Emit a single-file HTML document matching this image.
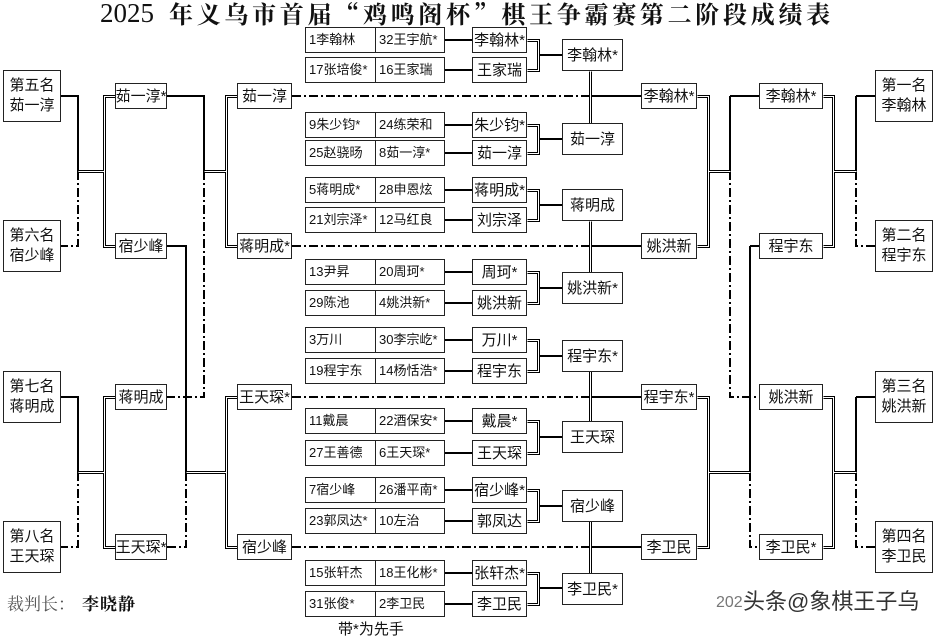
<!DOCTYPE html>
<html><head><meta charset="utf-8">
<style>
html,body{margin:0;padding:0;background:#fff;}
body{width:933px;height:637px;position:relative;overflow:hidden;font-family:"Liberation Sans","Noto Sans CJK SC",sans-serif;color:#111;}
.b{position:absolute;border:1px solid #222;background:#fff;box-sizing:border-box;display:flex;align-items:center;justify-content:center;font-size:15px;white-space:nowrap;line-height:1;}
.r{position:absolute;border:1px solid #222;background:#fff;box-sizing:border-box;font-size:15px;text-align:center;line-height:20px;padding-top:5px;}
.pl,.pr{position:absolute;border:1px solid #222;background:#fff;box-sizing:border-box;height:26px;font-size:13px;line-height:24px;padding-left:3px;white-space:nowrap;}
.pl{left:305px;width:71px;}
.pr{left:375px;width:70px;}
.w{left:472px;width:55px;height:26px;}
.q{left:562px;width:61px;height:32px;}
.c2{left:115px;width:52px;height:26px;}
.c3{left:237px;width:55px;height:26px;}
.c4{left:641px;width:56px;height:26px;}
.c5{left:759px;width:64px;height:26px;}
.rl{left:3px;width:58px;height:52px;}
.rr{left:875px;width:58px;height:52px;}
svg{position:absolute;left:0;top:0;}
.s{stroke:#000;stroke-width:2;fill:none;}
.d{stroke:#000;stroke-width:2;fill:none;stroke-dasharray:9 3 2 3;}
.o{stroke:#000;stroke-width:3;fill:none;}
.i{stroke:#fff;stroke-width:1;fill:none;}
</style></head><body>

<div style="position:absolute;left:100px;top:-2px;font-family:'Liberation Serif',serif;font-size:27px;line-height:30px;">2025</div>
<div style="position:absolute;left:169px;top:0px;font-family:'Noto Serif CJK SC',serif;font-weight:bold;font-size:24px;line-height:26px;letter-spacing:3.7px;white-space:nowrap;">年义乌市首届“鸡鸣阁杯”棋王争霸赛第二阶段成绩表</div>

<svg width="933" height="637" viewBox="0 0 933 637">
<!-- left rank <-> col2 -->
<path class="s" d="M61 96 H78 V171"/>
<path class="d" d="M78 171 V246 H61"/>
<path class="s" d="M61 397 H78 V472"/>
<path class="d" d="M78 472 V547 H61"/>
<!-- col2 -> col3 -->
<path class="s" d="M167 96 H204 V171"/>
<path class="d" d="M204 171 V397 H167"/>
<path class="s" d="M167 246 H186 V472"/>
<path class="d" d="M186 472 V547 H167"/>
<!-- center dash-dot -->
<path class="d" d="M292 96 H589"/>
<path class="d" d="M292 246 H589"/>
<path class="d" d="M292 397 H589"/>
<path class="d" d="M292 547 H589"/>
<path class="s" d="M591 96 H641"/>
<path class="s" d="M591 246 H641"/>
<path class="s" d="M591 397 H641"/>
<path class="s" d="M591 547 H641"/>
<!-- pair -> winner lines -->
<path class="s" d="M445 40 H472 M445 70 H472 M445 125 H472 M445 153 H472 M445 190 H472 M445 220 H472 M445 272 H472 M445 303 H472 M445 340 H472 M445 371 H472 M445 421 H472 M445 453 H472 M445 490 H472 M445 521 H472 M445 573 H472 M445 604 H472"/>
<!-- bracket -> R2 lines -->
<path class="s" d="M539 55 H562 M539 139 H562 M539 205 H562 M539 288 H562 M539 356 H562 M539 437 H562 M539 506 H562 M539 588 H562"/>
<!-- right R3 -> R4 -->
<path class="s" d="M730 96 V171 M730 96 H759"/>
<path class="d" d="M730 171 V397 H759"/>
<path class="s" d="M750 246 V472 M750 246 H759"/>
<path class="d" d="M750 472 V547 H759"/>
<!-- R4 -> rank -->
<path class="s" d="M856 96 V171 M856 96 H875"/>
<path class="d" d="M856 171 V246 H875"/>
<path class="s" d="M856 397 V472 M856 397 H875"/>
<path class="d" d="M856 472 V547 H875"/>

<g transform="translate(0.5,0.5)">
<path class="o" d="M78 171 H104 M115 96 H104 V246 H115 M78 472 H104 M115 397 H104 V547 H115"/>
<path class="o" d="M204 171 H226 M237 96 H226 V246 H237 M186 472 H226 M237 397 H226 V547 H237"/>
<path class="o" d="M527 40 H538 V70 H527 M527 125 H538 V153 H527 M527 190 H538 V220 H527 M527 272 H538 V303 H527 M527 340 H538 V371 H527 M527 421 H538 V453 H527 M527 490 H538 V521 H527 M527 573 H538 V604 H527"/>
<path class="o" d="M590 71 V123 M590 221 V272 M590 371 V421 M590 521 V573"/>
<path class="o" d="M697 96 H708 V246 H697 M708 171 H730 M697 397 H708 V547 H697 M708 472 H750"/>
<path class="o" d="M823 96 H833 V246 H823 M833 171 H856 M823 397 H833 V547 H823 M833 472 H856"/>
<path class="i" d="M78 171 H104 M115 96 H104 V246 H115 M78 472 H104 M115 397 H104 V547 H115"/>
<path class="i" d="M204 171 H226 M237 96 H226 V246 H237 M186 472 H226 M237 397 H226 V547 H237"/>
<path class="i" d="M527 40 H538 V70 H527 M527 125 H538 V153 H527 M527 190 H538 V220 H527 M527 272 H538 V303 H527 M527 340 H538 V371 H527 M527 421 H538 V453 H527 M527 490 H538 V521 H527 M527 573 H538 V604 H527"/>
<path class="i" d="M590 71 V123 M590 221 V272 M590 371 V421 M590 521 V573"/>
<path class="i" d="M697 96 H708 V246 H697 M708 171 H730 M697 397 H708 V547 H697 M708 472 H750"/>
<path class="i" d="M823 96 H833 V246 H823 M833 171 H856 M823 397 H833 V547 H823 M833 472 H856"/>
</g>
</svg>

<!-- left rank boxes -->
<div class="r rl" style="top:70px;">第五名<br>茹一淳</div>
<div class="r rl" style="top:220px;">第六名<br>宿少峰</div>
<div class="r rl" style="top:371px;">第七名<br>蒋明成</div>
<div class="r rl" style="top:521px;">第八名<br>王天琛</div>

<!-- col2 -->
<div class="b c2" style="top:83px;">茹一淳*</div>
<div class="b c2" style="top:233px;">宿少峰</div>
<div class="b c2" style="top:384px;">蒋明成</div>
<div class="b c2" style="top:534px;">王天琛*</div>

<!-- col3 -->
<div class="b c3" style="top:83px;">茹一淳</div>
<div class="b c3" style="top:233px;">蒋明成*</div>
<div class="b c3" style="top:384px;">王天琛*</div>
<div class="b c3" style="top:534px;">宿少峰</div>

<!-- pair rows -->
<div class="pl" style="top:27px;">1李翰林</div><div class="pr" style="top:27px;">32王宇航*</div>
<div class="pl" style="top:57px;">17张培俊*</div><div class="pr" style="top:57px;">16王家瑞</div>
<div class="pl" style="top:112px;">9朱少钧*</div><div class="pr" style="top:112px;">24练荣和</div>
<div class="pl" style="top:140px;">25赵骁旸</div><div class="pr" style="top:140px;">8茹一淳*</div>
<div class="pl" style="top:177px;">5蒋明成*</div><div class="pr" style="top:177px;">28申恩炫</div>
<div class="pl" style="top:207px;">21刘宗泽*</div><div class="pr" style="top:207px;">12马红良</div>
<div class="pl" style="top:259px;">13尹昇</div><div class="pr" style="top:259px;">20周珂*</div>
<div class="pl" style="top:290px;">29陈池</div><div class="pr" style="top:290px;">4姚洪新*</div>
<div class="pl" style="top:327px;">3万川</div><div class="pr" style="top:327px;">30李宗屹*</div>
<div class="pl" style="top:358px;">19程宇东</div><div class="pr" style="top:358px;">14杨恬浩*</div>
<div class="pl" style="top:408px;">11戴晨</div><div class="pr" style="top:408px;">22酒保安*</div>
<div class="pl" style="top:440px;">27王善德</div><div class="pr" style="top:440px;">6王天琛*</div>
<div class="pl" style="top:477px;">7宿少峰</div><div class="pr" style="top:477px;">26潘平南*</div>
<div class="pl" style="top:508px;">23郭凤达*</div><div class="pr" style="top:508px;">10左治</div>
<div class="pl" style="top:560px;">15张轩杰</div><div class="pr" style="top:560px;">18王化彬*</div>
<div class="pl" style="top:591px;">31张俊*</div><div class="pr" style="top:591px;">2李卫民</div>

<!-- winners -->
<div class="b w" style="top:27px;">李翰林*</div>
<div class="b w" style="top:57px;">王家瑞</div>
<div class="b w" style="top:112px;">朱少钧*</div>
<div class="b w" style="top:140px;">茹一淳</div>
<div class="b w" style="top:177px;">蒋明成*</div>
<div class="b w" style="top:207px;">刘宗泽</div>
<div class="b w" style="top:259px;">周珂*</div>
<div class="b w" style="top:290px;">姚洪新</div>
<div class="b w" style="top:327px;">万川*</div>
<div class="b w" style="top:358px;">程宇东</div>
<div class="b w" style="top:408px;">戴晨*</div>
<div class="b w" style="top:440px;">王天琛</div>
<div class="b w" style="top:477px;">宿少峰*</div>
<div class="b w" style="top:508px;">郭凤达</div>
<div class="b w" style="top:560px;">张轩杰*</div>
<div class="b w" style="top:591px;">李卫民</div>

<!-- R2 -->
<div class="b q" style="top:39px;">李翰林*</div>
<div class="b q" style="top:123px;">茹一淳</div>
<div class="b q" style="top:189px;">蒋明成</div>
<div class="b q" style="top:272px;">姚洪新*</div>
<div class="b q" style="top:340px;">程宇东*</div>
<div class="b q" style="top:421px;">王天琛</div>
<div class="b q" style="top:490px;">宿少峰</div>
<div class="b q" style="top:573px;">李卫民*</div>

<!-- R3 -->
<div class="b c4" style="top:83px;">李翰林*</div>
<div class="b c4" style="top:233px;">姚洪新</div>
<div class="b c4" style="top:384px;">程宇东*</div>
<div class="b c4" style="top:534px;">李卫民</div>

<!-- R4 -->
<div class="b c5" style="top:83px;">李翰林*</div>
<div class="b c5" style="top:233px;">程宇东</div>
<div class="b c5" style="top:384px;">姚洪新</div>
<div class="b c5" style="top:534px;">李卫民*</div>

<!-- right rank boxes -->
<div class="r rr" style="top:70px;">第一名<br>李翰林</div>
<div class="r rr" style="top:220px;">第二名<br>程宇东</div>
<div class="r rr" style="top:371px;">第三名<br>姚洪新</div>
<div class="r rr" style="top:521px;">第四名<br>李卫民</div>

<!-- footer -->
<div style="position:absolute;left:7px;top:594px;font-size:17px;line-height:22px;color:#555;font-family:'Liberation Serif','Noto Serif CJK SC',serif;white-space:nowrap;">裁判长：</div>
<div style="position:absolute;left:82px;top:594px;font-size:17px;line-height:22px;font-weight:bold;color:#111;font-family:'Liberation Serif','Noto Serif CJK SC',serif;letter-spacing:1px;white-space:nowrap;">李晓静</div>
<div style="position:absolute;left:338px;top:620px;font-size:15px;line-height:20px;white-space:nowrap;">带*为先手</div>
<div style="position:absolute;left:716px;top:593px;font-size:16px;line-height:20px;color:#777;white-space:nowrap;">202</div>
<div style="position:absolute;left:743px;top:589px;font-size:22px;line-height:26px;color:#333;white-space:nowrap;text-shadow:1px 1px 0 #fff,-1px -1px 0 #fff,1px -1px 0 #fff,-1px 1px 0 #fff;">头条@象棋王子乌</div>

</body></html>
